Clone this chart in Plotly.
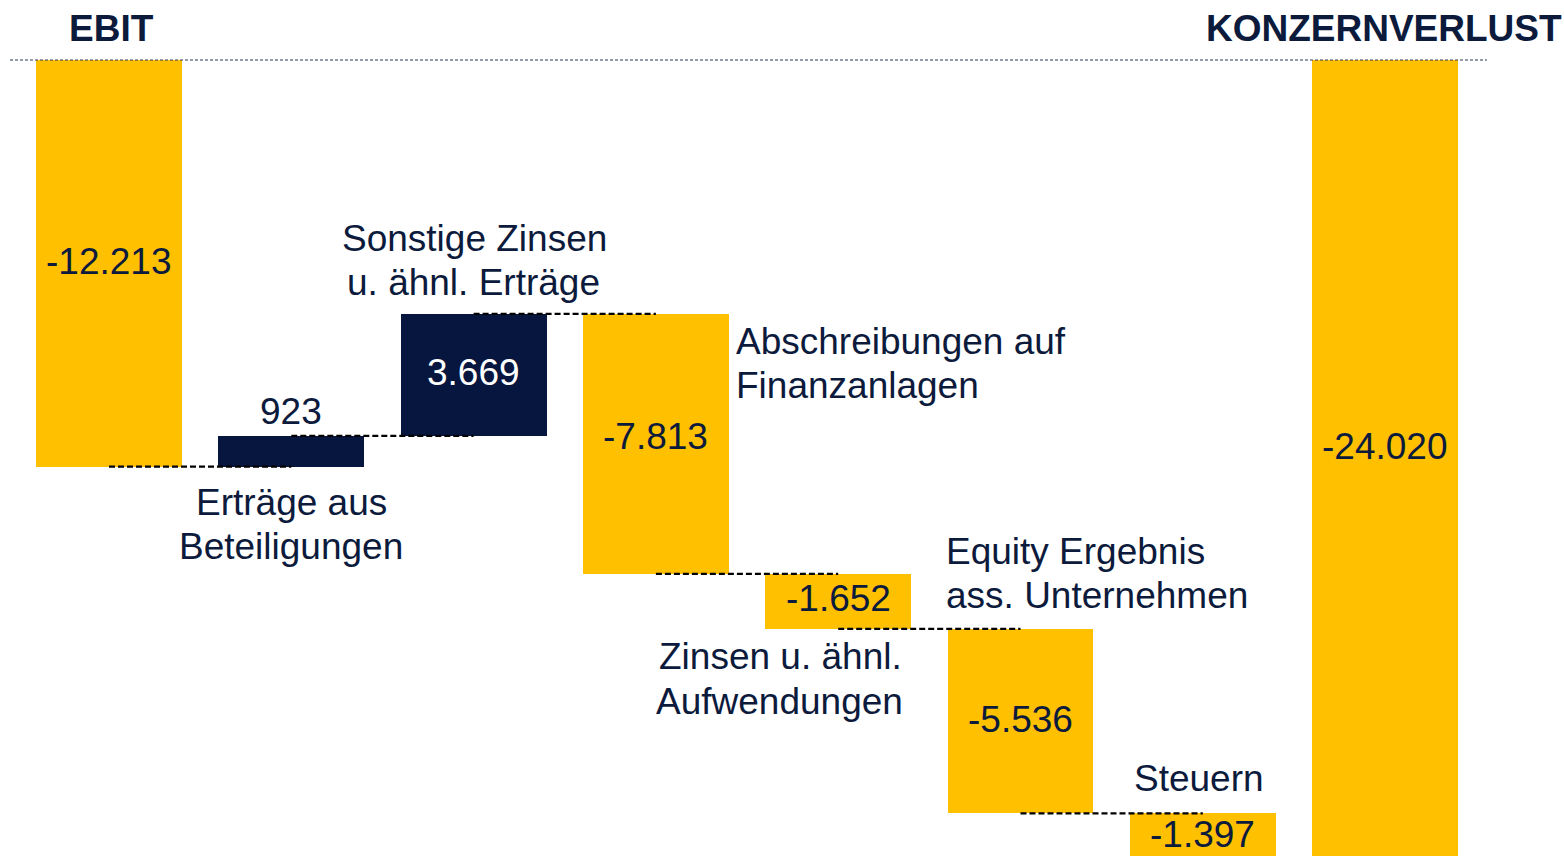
import numpy as np
import plotly.graph_objects as go

# ---------------- data ----------------
categories = ["EBIT", "Erträge aus Beteiligungen", "Sonstige Zinsen u. ähnl. Erträge",
              "Abschreibungen auf Finanzanlagen", "Zinsen u. ähnl. Aufwendungen",
              "Equity Ergebnis ass. Unternehmen", "Steuern", "KONZERNVERLUST"]
deltas = [-12.213, 0.923, 3.669, -7.813, -1.652, -5.536, -1.397]
total = -24.020
value_labels = ["-12.213", "923", "3.669", "-7.813", "-1.652", "-5.536", "-1.397", "-24.020"]

# ---------------- styles ----------------
GOLD = "#FFC000"
NAVY = "#07163F"
TEXT = "#0C1A3C"
FONT = "Liberation Sans, Arial, sans-serif"
FS = 37
W, H = 1564, 856

cum = np.cumsum(deltas)
bases = list(cum - np.array(deltas)) + [0.0]
heights = list(deltas) + [total]
idx = list(range(len(categories)))
colors = [NAVY if h > 0 else GOLD for h in heights]

fig = go.Figure()
fig.add_trace(go.Bar(x=idx, y=heights, base=bases, width=0.8,
                     marker=dict(color=colors, line=dict(width=0)),
                     hoverinfo="skip", showlegend=False))

# connector lines (center to center at running total)
cx, cy = [], []
for i in range(len(deltas)):
    cx += [i, i + 1, None]
    cy += [cum[i], cum[i], None]
fig.add_trace(go.Scatter(x=cx, y=cy, mode="lines",
                         line=dict(color="#000000", width=2.2, dash="6px,3px"),
                         hoverinfo="skip", showlegend=False))

# axes scaling (pixel layout)
x_center0, x_step = 109.0, 182.3
y_zero_px, y_scale = 60.0, 33.3
x_range = [(0 - x_center0) / x_step, (W - x_center0) / x_step]
y_range = [(y_zero_px - H) / y_scale, y_zero_px / y_scale]

annotations = []
# value labels (pixel y centres)
value_label_py = [261, 411.5, 372, 437, 598.5, 719, 834, 446]
for i, (t, py) in enumerate(zip(value_labels, value_label_py)):
    col = "#FFFFFF" if (heights[i] > 0 and i == 2) else TEXT
    annotations.append(dict(x=i, xref="x", y=1 - py / H, yref="paper", text=t,
                            showarrow=False, xanchor="center", yanchor="middle",
                            font=dict(family=FONT, size=FS, color=col)))

# category label lines: (text, px_x, px_y, xanchor, bold)
label_lines = [
    ("EBIT", 111.5, 28.5, "center", True),
    ("KONZERNVERLUST", 1384, 28.5, "center", True),
    ("Erträge aus", 291, 502.5, "center", False),
    ("Beteiligungen", 291, 546.5, "center", False),
    ("Sonstige Zinsen", 474, 238, "center", False),
    ("u. ähnl. Erträge", 473, 282, "center", False),
    ("Abschreibungen auf", 734, 341, "left", False),
    ("Finanzanlagen", 734, 385.5, "left", False),
    ("Zinsen u. ähnl.", 780, 656.5, "center", False),
    ("Aufwendungen", 779, 701.5, "center", False),
    ("Equity Ergebnis", 944, 551.5, "left", False),
    ("ass. Unternehmen", 944, 595, "left", False),
    ("Steuern", 1199, 778.5, "center", False),
]
for t, px, py, xa, bold in label_lines:
    annotations.append(dict(x=px / W, xref="paper", y=1 - py / H, yref="paper",
                            text=f"<b>{t}</b>" if bold else t,
                            showarrow=False, xanchor=xa, yanchor="middle",
                            font=dict(family=FONT, size=FS, color=TEXT)))

shapes = [dict(type="line", xref="paper", yref="y", x0=10 / W, x1=1487 / W, y0=0, y1=0,
               line=dict(color="#2E3858", width=1.2, dash="3px,2px"))]

fig.update_layout(
    width=W, height=H, margin=dict(l=0, r=0, t=0, b=0),
    paper_bgcolor="white", plot_bgcolor="white",
    xaxis=dict(range=x_range, visible=False, fixedrange=True),
    yaxis=dict(range=y_range, visible=False, fixedrange=True),
    annotations=annotations, shapes=shapes, bargap=0,
)

fig.write_html("out.html", config={"displayModeBar": False},
               post_script="document.body.style.margin='0';document.documentElement.style.overflow='hidden';")
